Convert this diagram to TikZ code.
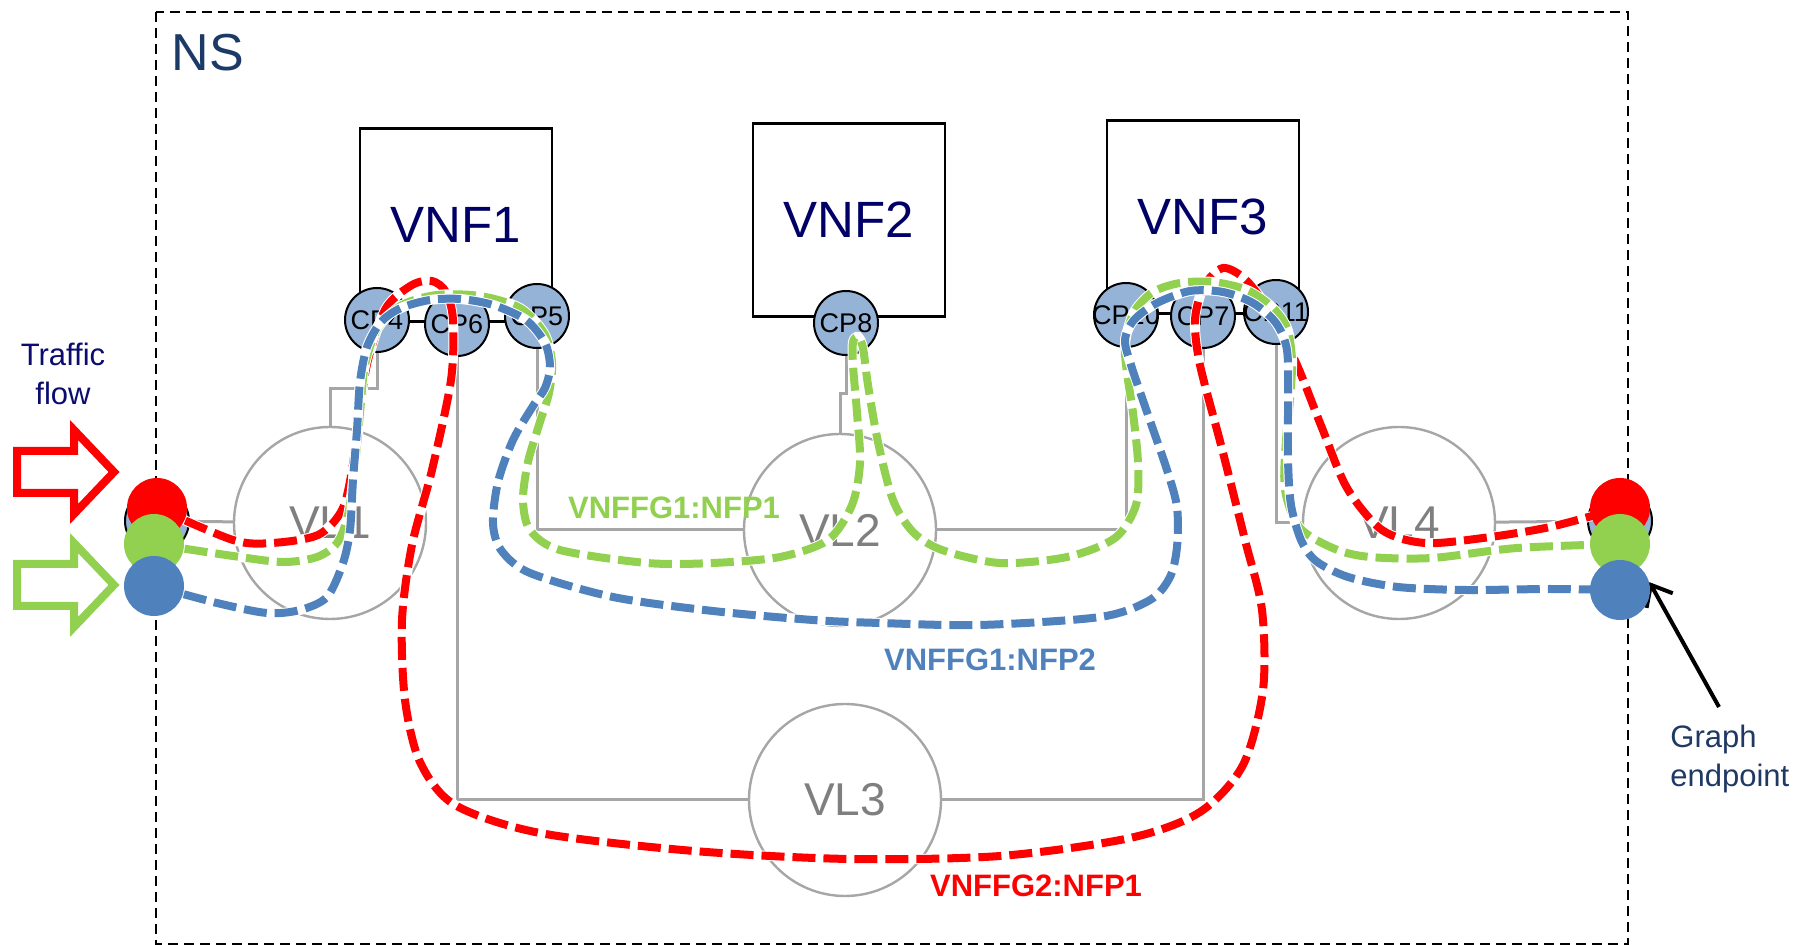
\documentclass[tikz,border=0pt]{standalone}
\usepackage{fontspec}
\setmainfont{Liberation Sans}
\usetikzlibrary{arrows.meta}
\pgfdeclarelayer{front}
\pgfsetlayers{main,front}
\definecolor{nfpred}{HTML}{FF0000}
\definecolor{nfpgreen}{HTML}{92D050}
\definecolor{nfpblue}{HTML}{4F81BD}
\definecolor{cpfill}{HTML}{95B3D7}
\definecolor{vlgray}{HTML}{A6A6A6}
\definecolor{vltext}{HTML}{7F7F7F}
\definecolor{vnftext}{HTML}{000066}
\definecolor{nstext}{HTML}{1B3A66}
\definecolor{flowtext}{HTML}{0C0C70}
\definecolor{geptext}{HTML}{1F3864}
\tikzset{
	nsbox/.style={line width=1pt,dash pattern=on 5pt off 3pt},
	nstitle/.style={text=nstext,inner sep=0pt,font=\fontsize{26}{30}\selectfont},
	vnf/.style={draw,line width=1.2pt,minimum width=96pt,minimum height=96.5pt,inner sep=0pt,text=vnftext,font=\fontsize{25.5}{30}\selectfont},
	cp/.style={circle,draw,line width=1pt,fill=cpfill,minimum size=32pt,inner sep=0pt},
	cptext/.style={inner sep=0pt,font=\fontsize{13.5}{16}\selectfont},
	vl/.style={circle,draw=vlgray,line width=1.2pt,minimum size=96pt,inner sep=0pt,text=vltext,font=\fontsize{23}{27}\selectfont},
	link/.style={draw=vlgray,line width=1.5pt},
	nfp/.style={line width=4pt,dash pattern=on 11.5pt off 4pt,preaction={draw=white,solid,line width=5pt}},
	dot/.style={circle,minimum size=30pt,inner sep=0pt},
	nfplabel/.style={inner sep=0pt,font=\bfseries\fontsize{15.5}{18}\selectfont},
	note/.style={inner sep=0pt,font=\fontsize{15.5}{19.5}\selectfont},
	flowarrow/.style={line width=4pt,line join=miter},
	pointer/.style={line width=2pt,-{Straight Barb[length=9pt,width=15pt]}}
}
\begin{document}
\begin{tikzpicture}[x=0.5pt,y=-0.5pt]
		\useasboundingbox (0,0) rectangle (1810,945);
		\draw[nsbox] (156,12) rectangle (1628,944);
		\node[nstitle] (ns) at (208,53) {NS};
		% VNFs and their connection points
		\node[vnf] (vnf1) at (456,225) {VNF1};
		\node[vnf] (vnf2) at (849,220) {VNF2};
		\node[vnf] (vnf3) at (1203,217) {VNF3};
		\foreach \n/\x/\y in {4/377/320,6/457/324,5/537/316,8/846/323,10/1126/315,7/1203/316,11/1276/312}
			\node[cp,label={[cptext]center:CP\n}] (cp\n) at (\x,\y) {};
		\node[cp] (cpl) at (157,521) {};
		\node[cp] (cpr) at (1620,521) {};
		% virtual links
		\foreach \n/\x/\y in {1/330/523,2/840/530,3/845/800,4/1399/523}
			\node[vl] (vl\n) at (\x,\y) {VL\n};
		\draw[link] (cpl)--(vl1);
		\draw[link] (vl1.north)--++(0,-37)-|(cp4.south);
		\draw[link] (cp5.south)|-(vl2.west);
		\draw[link] (vl2.north)--++(0,-39)-|(cp8.south);
		\draw[link] (cp10.south)|-(vl2.east);
		\draw[link] (cp6.south)|-(vl3.west);
		\draw[link] (cp7.south)|-(vl3.east);
		\draw[link] (cp11.south)|-(vl4.west);
		\draw[link] (vl4)--(cpr);
		% graph endpoints
		\begin{pgfonlayer}{front}
		\node[dot,fill=nfpred] (epl-red) at (157,508) {};
		\node[dot,fill=nfpgreen] (epl-green) at (154,544) {};
		\node[dot,fill=nfpblue] (epl-blue) at (154,586) {};
		\node[dot,fill=nfpred] (epr-red) at (1620,508) {};
		\node[dot,fill=nfpgreen] (epr-green) at (1620,544) {};
		\node[dot,fill=nfpblue] (epr-blue) at (1620,590) {};
		\end{pgfonlayer}
		% forwarding paths
		\draw[nfp,draw=nfpred] plot[smooth] coordinates {(epl-red.center) (233,540) (272,543) (318,535) (342,510) (352,470) (360,410) (368,360) (386,308) (412,285) (432,281) (446,292) (453,320) (451,380) (432,470) (412,545) (402,620) (405,700) (420,762) (455,805) (540,833) (694,851) (850,859) (1000,856) (1130,838) (1200,812) (1243,765) (1263,690) (1262,610) (1245,540) (1221,445) (1200,365) (1195,320) (1204,286) (1223,268) (1246,280) (1272,315) (1297,365) (1322,428) (1347,488) (1382,530) (1425,543) (1483,538) (1550,527) (epr-red.center)};
		\draw[nfp,draw=nfpgreen] plot[smooth] coordinates {(epl-green.center) (233,556) (283,562) (317,557) (337,543) (348,515) (355,465) (360,413) (365,365) (378,328) (402,305) (437,295) (480,296) (520,308) (544,333) (552,362) (549,393) (539,425) (528,462) (523,500) (530,530) (560,550) (647,563) (713,563) (780,557) (828,540) (852,505) (860,463) (857,413) (853,365) (853,342) (858,337) (863,348) (868,385) (878,442) (893,500) (913,532) (942,550) (1000,563) (1067,557) (1115,538) (1136,505) (1138,463) (1133,413) (1127,373) (1125,343) (1134,312) (1153,292) (1180,283) (1213,282) (1247,290) (1272,307) (1287,328) (1292,360) (1290,400) (1286,440) (1285,490) (1300,528) (1335,549) (1370,557) (1432,558) (1517,548) (epr-green.center)};
		\draw[nfp,draw=nfpblue] plot[smooth] coordinates {(epl-blue.center) (217,603) (267,613) (300,610) (327,597) (343,563) (350,530) (353,480) (357,430) (360,382) (367,347) (381,322) (401,308) (430,300) (460,299) (493,305) (526,320) (545,343) (550,367) (545,388) (533,406) (513,440) (498,482) (493,523) (501,550) (530,573) (613,597) (713,611) (813,620) (880,623) (980,625) (1100,617) (1150,600) (1170,577) (1177,547) (1177,507) (1167,470) (1148,415) (1131,365) (1125,340) (1134,320) (1157,303) (1190,291) (1223,292) (1253,303) (1276,323) (1287,350) (1288,400) (1288,460) (1291,505) (1301,540) (1316,561) (1348,577) (1398,587) (1466,590) (1550,589) (epr-blue.center)};
		\node[nfplabel,text=nfpgreen] (nfp11) at (674,508) {VNFFG1:NFP1};
		\node[nfplabel,text=nfpblue] (nfp12) at (990,660) {VNFFG1:NFP2};
		\node[nfplabel,text=nfpred] (nfp21) at (1036,886) {VNFFG2:NFP1};
		% traffic in
		\node[note,text=flowtext,align=center] (traffic) at (63,374) {Traffic\\flow};
		\draw[flowarrow,draw=nfpred] (17,451)--(74,451)--(74,430)--(114,472)--(74,514)--(74,493)--(17,493)--cycle;
		\draw[flowarrow,draw=nfpgreen] (17,564)--(74,564)--(74,543)--(114,585)--(74,627)--(74,606)--(17,606)--cycle;
		\node[note,text=geptext,align=left,anchor=west] (gep) at (1670,759) {Graph\\endpoint};
		\coordinate (gtail) at (1719,707);
		\draw[pointer] (gtail)--(epr-blue.15);
\end{tikzpicture}
\end{document}
